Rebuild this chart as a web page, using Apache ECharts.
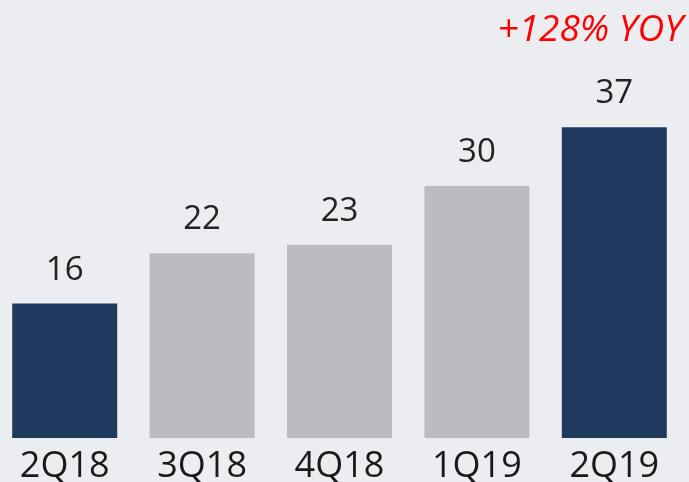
<!DOCTYPE html>
<html>
<head>
<meta charset="utf-8">
<script src="https://cdn.jsdelivr.net/npm/echarts@6/dist/echarts.min.js"></script>
<style>
  html, body { margin: 0; padding: 0; background: #ecedf0; overflow: hidden; }
  #chart { width: 693px; height: 482px; margin-left: -4px; }
</style>
</head>
<body>
<div id="chart"></div>
<script>
// quarters and values
const quarters = ['2Q18', '3Q18', '4Q18', '1Q19', '2Q19'];
const values = [16, 22, 23, 30, 37];
const highlight = [true, false, false, false, true];
const growthNote = '+128% YOY';

const navy = '#1f3a5d';
const grey = '#bbbcbf';

const chart = echarts.init(document.getElementById('chart'));

const option = {
    backgroundColor: '#ecedf0',
    animation: false,
    textStyle: { fontFamily: '"Open Sans", sans-serif' },
    grid: { left: 0, right: 6, top: 18, bottom: 44, containLabel: false, outerBoundsMode: 'none' },
    xAxis: {
        type: 'category',
        data: quarters,
        axisLine: { show: false },
        axisTick: { show: false },
        axisLabel: {
            color: '#1a1a1a',
            fontSize: 36,
            margin: 11,
            fontFamily: '"Open Sans", sans-serif'
        }
    },
    yAxis: {
        type: 'value',
        min: 0,
        max: 50,
        show: false,
        splitLine: { show: false }
    },
    series: [{
        type: 'bar',
        barWidth: 105,
        data: values.map((v, i) => ({
            value: v,
            itemStyle: { color: highlight[i] ? navy : grey }
        })),
        label: {
            show: true,
            position: 'top',
            distance: 17,
            color: '#222',
            fontSize: 33,
            fontFamily: '"Open Sans", sans-serif'
        }
    }],
    graphic: [{
        type: 'text',
        right: 6,
        top: 12,
        style: {
            text: growthNote,
            fill: '#ff0000',
            font: 'italic 37px "Open Sans", sans-serif'
        }
    }]
};

chart.setOption(option);

window.addEventListener('resize', () => {
    chart.resize();
});
</script>
</body>
</html>
